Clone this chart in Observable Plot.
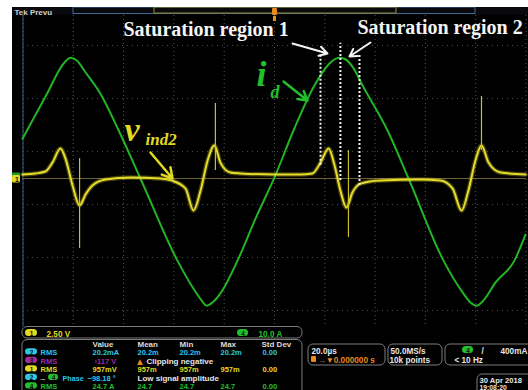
<!DOCTYPE html>
<html><head><meta charset="utf-8">
<script src="https://cdn.jsdelivr.net/npm/d3@7"></script>
<script src="https://cdn.jsdelivr.net/npm/@observablehq/plot@0.6"></script>
<style>html,body{margin:0;padding:0;background:#fff;} #chart{width:528px;height:390px;overflow:hidden}</style>
</head><body><div id="chart"></div>
<script>
// ---- data ----
// channel 4: drain current i_d (A), time in µs
const idTime = [-100.2,-91.0,-83.5,-81.1,-78.7,-75.1,-69.2,-62.0,-53.3,-38.6,-32.2,-29.0,-27.0,-24.7,-20.7,-14.7,-7.2,0,7.6,15.5,21.5,23.9,25.8,28.2,31.0,35.4,44.9,53.3,67.2,74.8,77.9,80.3,83.1,87.9,95.4,99.8];
const idAmps = [7.5,15.5,21.9,22.8,22.3,20.0,16.0,9.1,0,-15.5,-20.8,-23.0,-24.0,-23.4,-21.1,-15.5,-7.2,0.2,9.1,17.2,21.5,22.5,22.8,22.5,21.1,17.2,9.1,0,-15.5,-21.5,-23.4,-24.0,-23.0,-19.6,-15.5,-10.6];
// channel 1: inductor voltage v_ind2 (V)
const vTime = [-100.2,-95.0,-91.1,-88.3,-85.1,-83.1,-80.3,-77.5,-75.1,-72.4,-67.2,-57.3,-45.3,-41.0,-35.4,-32.2,-29.4,-26.6,-23.9,-21.5,-17.5,-13.5,0,10.3,15.1,18.3,21.5,23.9,26.2,28.6,31.0,34.2,42.1,58.1,66.0,70.8,74.4,77.1,79.9,82.3,85.1,89.9,99.8];
const vVolts = [0.19,0.24,0.33,0.75,1.42,0.94,-0.33,-1.27,-0.75,-0.33,-0.05,0.05,0.0,-0.09,-0.47,-1.51,-0.57,0.85,1.56,0.75,0.28,0.24,0.19,0.19,0.24,0.75,1.42,0.61,-0.57,-1.37,-0.66,-0.24,-0.09,-0.05,-0.09,-0.47,-1.51,-0.57,0.85,1.56,0.75,0.28,0.19];
// switching spikes on channel 1
const spikeTime = [-77.5,-23.5,29.4,82.3];
const spikeLow  = [-3.30,0.38,-2.78,1.32];
const spikeHigh = [0.94,3.54,1.32,3.87];
// saturation markers (time µs)
const satTime = [18.3,26.2,33.8];
const satTop = [2.36,2.55,2.36];      // divisions
const satBottom = [0.25,-0.04,-0.13]; // divisions
// scope settings
const ch1VoltsPerDiv = 2.5, ch4AmpsPerDiv = 10, timePerDiv = 20;
const gridTimes = [-100,-80,-60,-40,-20,0,20,40,60,80,100];
const gridDivs = [2.51,1.51,0.51,-0.49,-1.49,-2.49];
// measurement table
const tableHeaders = ["Value","Mean","Min","Max","Std Dev"];
const measLabels = ["RMS","RMS","RMS","Phase","RMS"];
const measValues = ["20.2mA","›117 V","957mV","−98.18 °","24.7 A"];
const measMean = ["20.2m","Clipping negative","957m","Low signal amplitude","24.7"];
const measMin = ["20.2m","","957m","","24.7"];
const measMax = ["20.2m","","957m","","24.7"];
const measStd = ["0.00","","0.00","","0.00"];

// ---- layout ----
const W = 528, H = 390;
const X0 = 274, pxPerDivX = 50.3, Y0 = 178, pxPerDivY = 53;
const tAt = px => (px - X0) / pxPerDivX * timePerDiv;
const dAt = py => (Y0 - py) / pxPerDivY;

const cCyan = "#2cc6e6", cMag = "#a12a9c", cYel = "#e2da22", cGrn = "#22c02c", cWhite = "#e6e6e6", cOr = "#e88a1c", cBorder = "#7c7c7c";
const trGreen = "#22b424", trYellow = "#e6dc2a";
const hudFont = "Liberation Sans, Arial, sans-serif";
const serif = "Liberation Serif, Times New Roman, serif";

const rectPx = (rows, o) => Plot.rect(rows, {x1: d => tAt(d.x1), x2: d => tAt(d.x2), y1: d => dAt(d.y1), y2: d => dAt(d.y2), ...o});
const textPx = (rows, o) => Plot.text(rows, {x: d => tAt(d.x), y: d => dAt(d.y), text: d => d.s, fill: d => d.c, fontSize: d => d.f || 8.2, textAnchor: "start", lineAnchor: "bottom", fontFamily: hudFont, fontWeight: "bold", ...o});

const green = idTime.map((t, i) => ({t, a: idAmps[i]}));
const yellow = vTime.map((t, i) => ({t, v: vVolts[i]}));
const spikes = spikeTime.map((t, i) => ({t, lo: spikeLow[i], hi: spikeHigh[i]}));
const sats = satTime.map((t, i) => ({t, top: satTop[i], bot: satBottom[i]}));

// HUD pieces
const colX = [92, 137, 179, 220, 261];
const rowY = [354.5, 363, 371.5, 380, 388.5];
const tableFont = 7.5;
const rowColor = [cCyan, cMag, cYel, cCyan, cGrn];
const rowBadge = [{n:"2",c:cCyan},{n:"3",c:cMag},{n:"1",c:cYel},{n:"2",c:cCyan},{n:"4",c:cGrn}];
const hudText = [];
tableHeaders.forEach((h, i) => hudText.push({s: h, x: colX[i], y: 346, c: "#dcdcdc", f: 8}));
measLabels.forEach((l, i) => {
  hudText.push({s: l, x: i === 3 ? 62 : 40, y: rowY[i], c: rowColor[i], f: i === 3 ? 7.2 : tableFont});
  hudText.push({s: measValues[i], x: i === 3 ? 87 : (i === 1 ? 94 : 92), y: rowY[i], c: rowColor[i], f: tableFont});
  const midColor = (i === 1 || i === 3) ? cWhite : rowColor[i];
  hudText.push({s: measMean[i], x: i === 1 ? 146 : colX[1], y: rowY[i], c: midColor, f: (i === 1 || i === 3) ? 8 : tableFont});
  hudText.push({s: measMin[i], x: colX[2], y: rowY[i], c: rowColor[i], f: tableFont});
  hudText.push({s: measMax[i], x: colX[3], y: rowY[i], c: rowColor[i], f: tableFont});
  hudText.push({s: measStd[i], x: 262, y: rowY[i], c: rowColor[i], f: tableFont});
});
hudText.push({s: "→", x: 38.5, y: rowY[3], c: cWhite, f: tableFont});
hudText.push({s: "2.50 V", x: 46, y: 336, c: cYel});
hudText.push({s: "10.0 A", x: 258, y: 336, c: cGrn});
hudText.push({s: "20.0µs", x: 311, y: 353, c: cWhite});
hudText.push({s: "→▼0.000000 s", x: 317, y: 362, c: cOr});
hudText.push({s: "50.0MS/s", x: 390, y: 353, c: cWhite});
hudText.push({s: "10k points", x: 389, y: 362, c: cWhite});
hudText.push({s: "/", x: 481, y: 353, c: cWhite});
hudText.push({s: "400mA", x: 500, y: 353, c: cWhite});
hudText.push({s: "< 10 Hz", x: 454, y: 362, c: cWhite});
hudText.push({s: "30 Apr 2018", x: 479, y: 382, c: cWhite, f: 7.6});
hudText.push({s: "19:08:20", x: 479, y: 389, c: cWhite, f: 6.8});
hudText.push({s: "Tek Prevu", x: 14, y: 14, c: "#cfcfcf", f: 8});

const badges = [];
rowBadge.forEach((b, i) => badges.push({x1: 25, x2: 37, y1: rowY[i] - 6.2, y2: rowY[i], n: b.n, c: b.c}));
badges.push({x1: 48, x2: 58, y1: rowY[3] - 6.2, y2: rowY[3], n: "4", c: cGrn});
badges.push({x1: 25, x2: 37, y1: 329, y2: 336, n: "1", c: cYel});
badges.push({x1: 237, x2: 248, y1: 329, y2: 336, n: "4", c: cGrn});
badges.push({x1: 462, x2: 473, y1: 346, y2: 353, n: "4", c: cGrn});

const boxes = [
  {x1: 22, x2: 302, y1: 326.5, y2: 338},
  {x1: 22, x2: 302, y1: 339.5, y2: 402},
  {x1: 308, x2: 385, y1: 344, y2: 365},
  {x1: 388, x2: 442, y1: 344, y2: 365},
  {x1: 445, x2: 540, y1: 344, y2: 365},
  {x1: 477, x2: 540, y1: 374, y2: 402}
];

const plot = Plot.plot({
  width: W, height: H, margin: 0,
  x: {domain: [tAt(0), tAt(W)], range: [0, W], axis: null},
  y: {domain: [dAt(H), dAt(0)], range: [H, 0], axis: null},
  color: {type: "identity"},
  style: {background: "#000", overflow: "hidden"},
  marks: [
    // background & header
    rectPx([{x1: 0, x2: W, y1: 0, y2: H}], {fill: "#000"}),
    rectPx([{x1: 12, x2: W, y1: 7, y2: 14.5}], {fill: "#0a0a0e"}),
    rectPx([{x1: 73, x2: 475, y1: 7, y2: 13.5}], {fill: "none", stroke: "#3d6a96", strokeWidth: 1}),
    rectPx([{x1: 154, x2: 396, y1: 7, y2: 13}], {fill: "none", stroke: "#8f8b2a", strokeWidth: 1}),
    // graticule
    Plot.ruleX(gridTimes, {y1: dAt(15), y2: dAt(327), stroke: "#555", strokeDasharray: "1,3", strokeWidth: 1}),
    Plot.ruleX([-100], {y1: dAt(15), y2: dAt(327), stroke: "#2f5f90", strokeWidth: 1}),
    Plot.ruleY(gridDivs, {x1: tAt(22), x2: tAt(526), stroke: "#4e4e4e", strokeDasharray: "1,4", strokeWidth: 1}),
    Plot.ruleY([0], {x1: tAt(22), x2: tAt(526), stroke: "#6e6232", strokeWidth: 1}),
    // traces
    Plot.line(green, {x: "t", y: d => d.a / ch4AmpsPerDiv, stroke: trGreen, strokeWidth: 2, curve: "monotone-x"}),
    Plot.line(yellow, {x: "t", y: d => d.v / ch1VoltsPerDiv, stroke: trYellow, strokeWidth: 4.5, strokeOpacity: 0.3, curve: "monotone-x"}),
    Plot.line(yellow, {x: "t", y: d => d.v / ch1VoltsPerDiv, stroke: trYellow, strokeWidth: 2, curve: "monotone-x"}),
    Plot.ruleX(spikes, {x: "t", y1: d => d.lo / ch1VoltsPerDiv, y2: d => d.hi / ch1VoltsPerDiv, stroke: "#c9bf24", strokeWidth: 1.2}),
    // saturation markers
    Plot.ruleX(sats, {x: "t", y1: "bot", y2: "top", stroke: "#f4f4f4", strokeWidth: 2, strokeDasharray: "2,2"}),
    // annotations
    textPx([{s: "Saturation region 1", x: 123, y: 35, c: "#f4f4f4"}, {s: "Saturation region 2", x: 357, y: 33, c: "#f4f4f4"}], {fontFamily: serif, fontSize: 20, fontWeight: "bold"}),
    Plot.arrow([{x1: 292, y1: 43, x2: 327, y2: 53}, {x1: 370, y1: 42, x2: 349, y2: 56}], {x1: d => tAt(d.x1), y1: d => dAt(d.y1), x2: d => tAt(d.x2), y2: d => dAt(d.y2), stroke: "#f4f4f4", strokeWidth: 2, headLength: 7}),
    textPx([{s: "i", x: 256, y: 85, c: cGrn}], {fontFamily: serif, fontSize: 36, fontWeight: "bold", fontStyle: "italic"}),
    textPx([{s: "d", x: 270, y: 97, c: cGrn}], {fontFamily: serif, fontSize: 18, fontWeight: "bold", fontStyle: "italic"}),
    Plot.arrow([{x1: 283, y1: 81, x2: 307, y2: 100}], {x1: d => tAt(d.x1), y1: d => dAt(d.y1), x2: d => tAt(d.x2), y2: d => dAt(d.y2), stroke: cGrn, strokeWidth: 2.5, headLength: 8}),
    textPx([{s: "v", x: 124, y: 140, c: cYel}], {fontFamily: serif, fontSize: 34, fontWeight: "bold", fontStyle: "italic"}),
    textPx([{s: "ind2", x: 145, y: 144, c: cYel}], {fontFamily: serif, fontSize: 17, fontWeight: "bold", fontStyle: "italic"}),
    Plot.arrow([{x1: 150, y1: 152, x2: 172, y2: 178}], {x1: d => tAt(d.x1), y1: d => dAt(d.y1), x2: d => tAt(d.x2), y2: d => dAt(d.y2), stroke: cYel, strokeWidth: 2.5, headLength: 8}),
    // trigger marker and channel markers
    rectPx([{x1: 272, x2: 277, y1: 8, y2: 15}], {fill: cOr, rx: 1}),
    rectPx([{x1: 273, x2: 276, y1: 16, y2: 21}], {fill: cOr}),
    rectPx([{x1: 12, x2: 20, y1: 172.5, y2: 177}], {fill: "#1c9b26", rx: 1}),
    rectPx([{x1: 12, x2: 20, y1: 175, y2: 182.5}], {fill: cYel, rx: 1.5}),
    textPx([{s: "1", x: 14.5, y: 181.5, c: "#111", f: 7}], {}),
    // HUD
    rectPx(boxes, {fill: "#000", stroke: cBorder, strokeWidth: 1, rx: 5}),
    rectPx(badges, {fill: d => d.c, rx: 3.5}),
    Plot.text(badges, {x: d => tAt((d.x1 + d.x2) / 2), y: d => dAt(d.y2 - 0.3), text: "n", fill: "#111", lineAnchor: "bottom", fontSize: 6.5, fontWeight: "bold", fontFamily: hudFont}),
    rectPx([{x1: 311, x2: 316, y1: 356, y2: 362}], {fill: cOr, rx: 1}),
    textPx([{s: "▲", x: 136.5, y: rowY[1], c: cOr, f: 7.5}], {fontFamily: "DejaVu Sans"}),
    textPx(hudText, {}),
    // white paper margins
    rectPx([{x1: 0, x2: W, y1: 0, y2: 7}, {x1: 0, x2: 12, y1: 0, y2: H}], {fill: "#fff"})
  ]
});
document.getElementById("chart").appendChild(plot);
</script></body></html>
